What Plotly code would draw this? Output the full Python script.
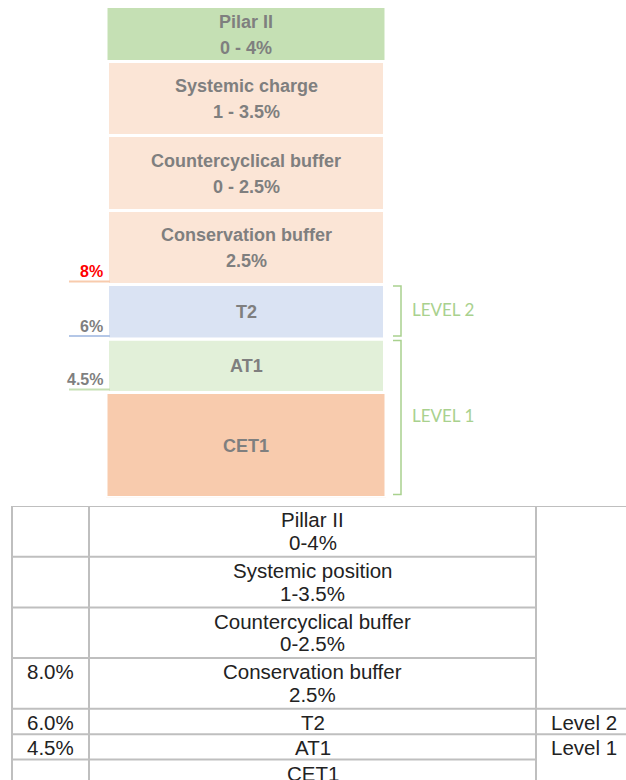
import plotly.graph_objects as go

# ---------------- data ----------------
# Capital requirement stack, listed bottom to top
block_names = ["CET1", "AT1", "T2", "Conservation buffer",
               "Countercyclical buffer", "Systemic charge", "Pilar II"]
block_ranges = ["", "", "", "2.5%", "0 - 2.5%", "1 - 3.5%", "0 - 4%"]
block_heights = [105, 53.5, 54.5, 74, 75, 74, 55]  # schematic block sizes
block_colors = ["#f8cbad", "#e2f0d9", "#dae3f3", "#fbe5d6",
                "#fbe5d6", "#fbe5d6", "#c5e0b4"]

# cumulative thresholds marked at the top of a block
threshold_labels = ["4.5%", "6%", "8%"]
threshold_block = [0, 1, 2]
threshold_text_colors = ["#7f7f7f", "#7f7f7f", "#ff0000"]
threshold_line_colors = ["#c5e0b4", "#b4c7e7", "#f8cbad"]

# brackets
level_labels = ["LEVEL 1", "LEVEL 2"]
level_first = [0, 2]
level_last = [1, 2]

# table, listed top to bottom
table_left = ["", "", "", "8.0%", "6.0%", "4.5%", ""]
table_mid = [["Pillar II", "0-4%"], ["Systemic position", "1-3.5%"],
             ["Countercyclical buffer", "0-2.5%"], ["Conservation buffer", "2.5%"],
             ["T2"], ["AT1"], ["CET1"]]
table_right = ["", "Level 2", "Level 1"]
table_right_rows = [[0, 1, 2, 3], [4], [5, 6]]

# ---------------- figure ----------------
W, H = 626, 780
fig = go.Figure()

# --- stacked blocks ---
bases = []
acc = 0
for h in block_heights:
    bases.append(acc)
    acc += h
tops = [b + h for b, h in zip(bases, block_heights)]
XC = 246
widths = [280 if n in ("CET1", "Pilar II") else 277 for n in block_names]

fig.add_trace(go.Bar(
    x=[XC] * len(block_names), y=block_heights, base=bases, width=widths,
    marker=dict(color=block_colors, line=dict(color="white", width=3)),
    xaxis="x", yaxis="y", hoverinfo="skip", showlegend=False))

bold_font = dict(family="Liberation Sans, Arial, sans-serif", size=18,
                 color="#7f7f7f", weight="bold")
annotations = []
for name, rng, b, h in zip(block_names, block_ranges, bases, block_heights):
    mid = b + h / 2
    if rng:
        annotations.append(dict(x=XC, y=mid, text=name, yshift=12.5, showarrow=False,
                                font=bold_font, xref="x", yref="y"))
        annotations.append(dict(x=XC, y=mid, text=rng, yshift=-13.5, showarrow=False,
                                font=bold_font, xref="x", yref="y"))
    else:
        annotations.append(dict(x=XC, y=mid, text=name, yshift=-0.5, showarrow=False,
                                font=bold_font, xref="x", yref="y"))

# threshold labels and underlines
for lab, bi, tc, lc in zip(threshold_labels, threshold_block,
                           threshold_text_colors, threshold_line_colors):
    yv = tops[bi]
    annotations.append(dict(x=105, y=yv, text=lab, xanchor="right", yshift=13,
                            showarrow=False, xref="x", yref="y",
                            font=dict(family="Liberation Sans, Arial, sans-serif",
                                      size=16, color=tc, weight="bold")))
    fig.add_trace(go.Scatter(x=[69, 110], y=[yv + 3, yv + 3], mode="lines",
                             line=dict(color=lc, width=2), xaxis="x", yaxis="y",
                             hoverinfo="skip", showlegend=False))

# brackets
for lab, f, l in zip(level_labels, level_first, level_last):
    yt = tops[l] - 1.5
    yb = bases[f] + 3
    fig.add_trace(go.Scatter(x=[393, 401, 401, 393], y=[yt, yt, yb, yb], mode="lines",
                             line=dict(color="#a9d18e", width=1.5), xaxis="x", yaxis="y",
                             hoverinfo="skip", showlegend=False))
    annotations.append(dict(x=410, y=(yt + yb) / 2, text=lab, xanchor="left", yshift=2,
                            showarrow=False, xref="x", yref="y",
                            font=dict(family="Lato, Open Sans, sans-serif", size=17,
                                      color="#a9d18e")))

# --- table ---
col_x = [12, 89, 536, 640]
row_lines = [len(m) for m in table_mid]
row_top = [0]
for n in row_lines:
    row_top.append(row_top[-1] + n)

grid_color = "#bfbfbf"
gx, gy = [], []
# vertical lines
for cx in col_x:
    gx += [cx, cx, None]
    gy += [0, row_top[-1], None]
# horizontal lines (full width where the right-hand cell changes)
right_edges = set()
for rows in table_right_rows:
    right_edges.add(row_top[rows[0]])
    right_edges.add(row_top[rows[-1] + 1])
for yb in row_top:
    x_end = col_x[3] if yb in right_edges else col_x[2]
    gx += [col_x[0], x_end, None]
    gy += [yb, yb, None]
fig.add_trace(go.Scatter(x=gx, y=gy, mode="lines", line=dict(color=grid_color, width=2),
                         xaxis="x", yaxis="y2", hoverinfo="skip", showlegend=False))

tfont = dict(family="Liberation Sans, Arial, sans-serif", size=20.5, color="#222222")
LINE0, LSTEP = 0.54, 0.9
for i, (lt, mids) in enumerate(zip(table_left, table_mid)):
    if lt:
        annotations.append(dict(x=(col_x[0] + col_x[1]) / 2, y=row_top[i] + LINE0, text=lt,
                                showarrow=False, xref="x", yref="y2", font=tfont))
    for j, t in enumerate(mids):
        annotations.append(dict(x=(col_x[1] + col_x[2]) / 2, y=row_top[i] + LINE0 + LSTEP * j,
                                text=t, showarrow=False, xref="x", yref="y2", font=tfont))
for lab, rows in zip(table_right, table_right_rows):
    if lab:
        annotations.append(dict(x=col_x[2] + 13, y=row_top[rows[0]] + LINE0, text=lab,
                                xanchor="left", showarrow=False, xref="x", yref="y2",
                                font=tfont))

TABLE_TOP_PX = 506
PX_PER_LINE = 25.35
DIAG_BOTTOM_PX = 497.5

fig.update_layout(
    width=W, height=H, margin=dict(l=0, r=0, t=0, b=0),
    paper_bgcolor="white", plot_bgcolor="white",
    barmode="overlay", showlegend=False,
    annotations=annotations,
    xaxis=dict(range=[0, W], domain=[0, 1], visible=False, fixedrange=True),
    yaxis=dict(range=[0, DIAG_BOTTOM_PX], domain=[1 - DIAG_BOTTOM_PX / H, 1],
               visible=False, fixedrange=True),
    yaxis2=dict(range=[(H - TABLE_TOP_PX) / PX_PER_LINE, 0],
                domain=[0, 1 - TABLE_TOP_PX / H], anchor="x",
                visible=False, fixedrange=True),
)

fig.write_html("out.html", config={"displayModeBar": False},
               post_script="document.body.style.margin='0px';")
